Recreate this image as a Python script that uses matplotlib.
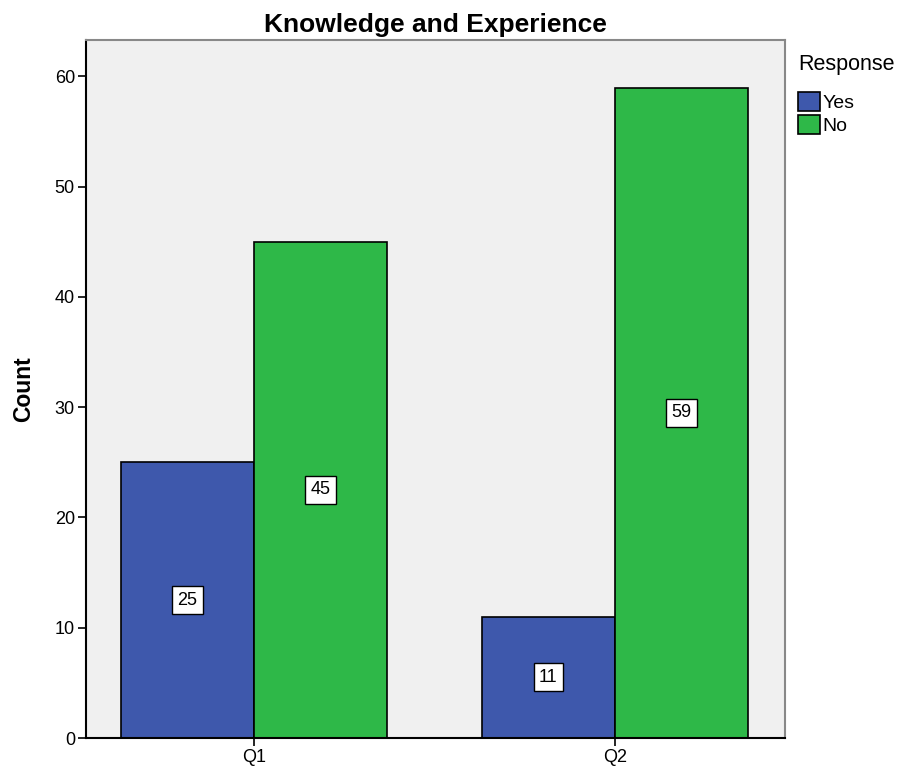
import matplotlib
matplotlib.use("Agg")
import matplotlib.pyplot as plt
import numpy as np

categories = ["Q1", "Q2"]
responses = ["Yes", "No"]
yes_counts = [25, 11]
no_counts = [45, 59]
colors = {"Yes": "#3E58AC", "No": "#2EB848"}

fig = plt.figure(figsize=(9, 7.71), dpi=100)
ax = fig.add_axes([0.0956, 0.0428, 0.7764, 0.9052])
ax.set_facecolor("#F0F0F0")

x = np.arange(len(categories))
w = 0.368
series = {"Yes": yes_counts, "No": no_counts}
offsets = {"Yes": -w / 2, "No": w / 2}
for r in responses:
    vals = series[r]
    ax.bar(x + offsets[r], vals, width=w, color=colors[r], edgecolor="black",
           linewidth=1.2, label=r, zorder=2)
    for xi, v in zip(x + offsets[r], vals):
        ax.text(xi, v / 2, str(v), ha="center", va="center", fontsize=13,
                family="Liberation Sans",
                bbox=dict(boxstyle="square,pad=0.3", facecolor="white",
                          edgecolor="black", linewidth=1.0), zorder=3)

ax.set_xlim(-0.465, 1.471)
ax.set_ylim(0, 63.3)
ax.set_yticks(range(0, 61, 10))
ax.set_xticks(x)
ax.set_xticklabels(categories)
ax.tick_params(axis="both", labelsize=13, length=6, width=1.2, direction="out", pad=2)
for lab in ax.get_xticklabels() + ax.get_yticklabels():
    lab.set_family("Liberation Sans")
ax.spines["left"].set_linewidth(1.5)
ax.spines["bottom"].set_linewidth(1.5)
ax.spines["top"].set_color("#888888")
ax.spines["right"].set_color("#888888")
ax.spines["top"].set_linewidth(1.5)
ax.spines["right"].set_linewidth(1.5)

ax.set_ylabel("Count", fontsize=16.5, fontweight="bold", family="Liberation Sans", labelpad=14)
ax.set_title("Knowledge and Experience", fontsize=19, fontweight="bold",
             family="Liberation Sans", pad=6)

leg = fig.legend(loc="upper left", bbox_to_anchor=(0.878, 0.94), title="Response",
                 frameon=False, title_fontsize=15.5,
                 handlelength=1.15, handleheight=1.15, handletextpad=0.12,
                 labelspacing=0.15, borderaxespad=0,
                 prop={"family": "Liberation Sans", "size": 14})
leg.get_title().set_family("Liberation Sans")
leg._legend_box.align = "left"
leg._legend_box.sep = 12

fig.savefig("out.png", dpi=100)
